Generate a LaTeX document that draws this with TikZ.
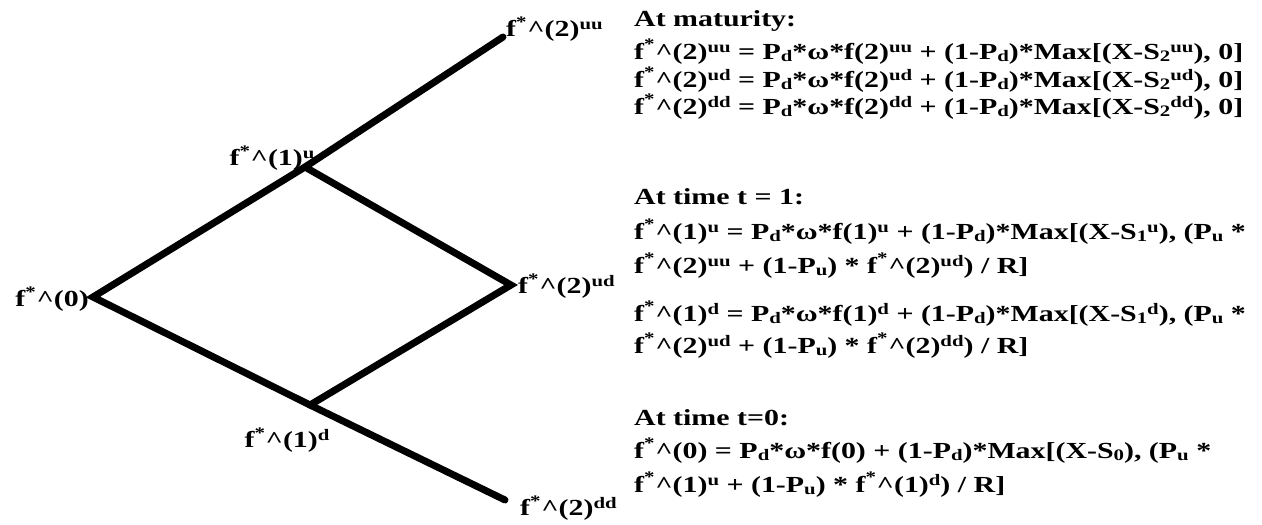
\documentclass[tikz,border=0pt]{standalone}
\usepackage{fontspec}
\setmainfont{Liberation Serif}
\newcommand{\fs}[1]{f\textsuperscript{*}\textasciicircum(#1)}
\newcommand{\up}[1]{\raisebox{0.3em}{\fontsize{16}{16}\selectfont #1}}
\newcommand{\dn}[1]{\raisebox{-0.12em}{\fontsize{16}{16}\selectfont #1}}
\newcommand{\W}[1]{\scalebox{1.30}[1]{#1}}
\begin{document}
\begin{tikzpicture}[x=1pt,y=-1pt,
  txt/.style={anchor=base west,inner sep=0pt,font=\fontsize{23}{27}\selectfont\bfseries},
  lbl/.style={inner sep=0pt,font=\fontsize{23}{27}\selectfont\bfseries},
  branch/.style={line width=7pt,line cap=round,line join=miter}]
\useasboundingbox (0,0) rectangle (1262,525);
\fill[white] (0,0) rectangle (1262,525);
% tree vertices
\coordinate (r) at (93,297);
\coordinate (u) at (305,167);
\coordinate (d) at (310,405);
\coordinate (uu) at (503,37);
\coordinate (ud) at (511,285);
\coordinate (dd) at (505,500);
\draw[branch] (uu) -- (u) -- (r) -- (d) -- (dd);
\draw[branch] (u) -- (ud) -- (d);
% labels
\node[lbl,anchor=east] (l0) at (89,299) {\W{\fs{0}}};
\node[lbl] (l1u) at (272,158) {\W{\fs{1}\up{u}}};
\node[lbl] (l1d) at (287,440) {\W{\fs{1}\up{d}}};
\node[lbl,anchor=west] (l2uu) at (506,29) {\W{\fs{2}\up{uu}}};
\node[lbl,anchor=west] (l2ud) at (518,286) {\W{\fs{2}\up{ud}}};
\node[lbl,anchor=west] (l2dd) at (520,508) {\W{\fs{2}\up{dd}}};
% equations
\node[txt] (h1) at (634,26) {\W{At maturity:}};
\node[txt] (e1) at (634,59) {\W{\fs{2}\up{uu} = P\dn{d}*ω*f(2)\up{uu} + (1-P\dn{d})*Max[(X-S\dn{2}\up{uu}), 0]}};
\node[txt] (e2) at (634,87) {\W{\fs{2}\up{ud} = P\dn{d}*ω*f(2)\up{ud} + (1-P\dn{d})*Max[(X-S\dn{2}\up{ud}), 0]}};
\node[txt] (e3) at (634,114) {\W{\fs{2}\up{dd} = P\dn{d}*ω*f(2)\up{dd} + (1-P\dn{d})*Max[(X-S\dn{2}\up{dd}), 0]}};
\node[txt] (h2) at (634,204) {\W{At time t = 1:}};
\node[txt] (e4) at (634,239) {\W{\fs{1}\up{u} = P\dn{d}*ω*f(1)\up{u} + (1-P\dn{d})*Max[(X-S\dn{1}\up{u}), (P\dn{u} *}};
\node[txt] (e5) at (634,273) {\W{\fs{2}\up{uu} + (1-P\dn{u}) * \fs{2}\up{ud}) / R]}};
\node[txt] (e6) at (634,321) {\W{\fs{1}\up{d} = P\dn{d}*ω*f(1)\up{d} + (1-P\dn{d})*Max[(X-S\dn{1}\up{d}), (P\dn{u} *}};
\node[txt] (e7) at (634,353) {\W{\fs{2}\up{ud} + (1-P\dn{u}) * \fs{2}\up{dd}) / R]}};
\node[txt] (h3) at (634,425) {\W{At time t=0:}};
\node[txt] (e8) at (634,458) {\W{\fs{0} = P\dn{d}*ω*f(0) + (1-P\dn{d})*Max[(X-S\dn{0}), (P\dn{u} *}};
\node[txt] (e9) at (634,492) {\W{\fs{1}\up{u} + (1-P\dn{u}) * \fs{1}\up{d}) / R]}};
\end{tikzpicture}
\end{document}
